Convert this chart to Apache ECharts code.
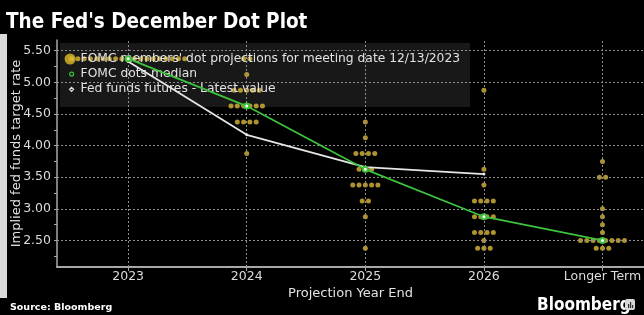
<!DOCTYPE html>
<html>
<head>
<meta charset="utf-8">
<title>The Fed's December Dot Plot</title>
<script src="https://cdn.jsdelivr.net/npm/echarts@6.0.0/dist/echarts.min.js"></script>
<style>
  html, body { margin: 0; padding: 0; background: #000; }
  #main { width: 644px; height: 315px; }
</style>
</head>
<body>
<div id="main"></div>
<script>
// x categories
var years = ['2023', '2024', '2025', '2026', 'Longer Term'];

// FOMC dots: rate level + how many members put a dot there
var rates2023 = [5.375];
var count2023 = [19];
var rates2024 = [5.375, 5.125, 4.875, 4.625, 4.375, 3.875];
var count2024 = [2, 1, 5, 6, 4, 1];
var rates2025 = [4.375, 4.125, 3.875, 3.625, 3.375, 3.125, 2.875, 2.375];
var count2025 = [1, 1, 4, 3, 5, 2, 1, 1];
var rates2026 = [4.875, 3.625, 3.375, 3.125, 2.875, 2.625, 2.5, 2.375];
var count2026 = [1, 1, 1, 4, 4, 4, 1, 3];
var ratesLong = [3.75, 3.5, 3.0, 2.875, 2.75, 2.625, 2.5, 2.375];
var countLong = [1, 2, 1, 1, 1, 1, 8, 3];

// median dot and fed funds futures
var medianDots = [5.375, 4.625, 3.625, 2.875, 2.5];
var futures = [5.33, 4.17, 3.66, 3.55];

// y tick labels
var yTicks = [2.5, 3.0, 3.5, 4.0, 4.5, 5.0, 5.5];
var yMinor = [2.25, 2.5, 2.75, 3.0, 3.25, 3.5, 3.75, 4.0, 4.25, 4.5, 4.75, 5.0, 5.25, 5.5];

var allRates = [rates2023, rates2024, rates2025, rates2026, ratesLong];
var allCounts = [count2023, count2024, count2025, count2026, countLong];

var chart = echarts.init(document.getElementById('main'));

// spread dots of the same level side by side
var dotStep = 0.053;
var dotData = [];
allRates.forEach(function(rates, i) {
  rates.forEach(function(rate, k) {
    var n = allCounts[i][k];
    for (var j = 0; j < n; j++) {
      dotData.push([i + (j - (n - 1) / 2) * dotStep, rate]);
    }
  });
});

var catIdx = years.map(function(y, i) { return i; });
var gridLines = yTicks.map(function(v) { return { yAxis: v }; })
  .concat(catIdx.map(function(i) { return { xAxis: i }; }));

var dotName = "FOMC members' dot projections for meeting date 12/13/2023";
var medName = 'FOMC dots median';
var futName = 'Fed funds futures - Latest value';

var option = {
  backgroundColor: '#000',
  animation: false,
  textStyle: { fontFamily: 'DejaVu Sans' },
  title: {
    text: "The Fed's December Dot Plot",
    left: 6,
    top: 12,
    padding: 0,
    textStyle: { color: '#fff', fontSize: 20.5, fontWeight: 'bold', fontFamily: 'DejaVu Sans Condensed' }
  },
  grid: { left: 57, right: 0, top: 40, bottom: 48, outerBoundsMode: 'none' },
  legend: {
    orient: 'vertical',
    left: 59,
    top: 48,
    itemWidth: 11,
    itemHeight: 11,
    itemGap: 3,
    textStyle: { color: '#e2e2e2', fontSize: 12.3, fontFamily: 'DejaVu Sans' },
    data: [
      { name: dotName, icon: 'circle', itemStyle: { color: '#e0bd2c' } },
      { name: medName, icon: 'path://M0,0M11,11M7,3.5A2,2,0,1,1,7,7.5A2,2,0,1,1,7,3.5Z',
        itemStyle: { color: 'rgba(0,0,0,0)', borderColor: '#3cc23c', borderWidth: 1.2 } },
      { name: futName, icon: 'path://M0,0M11,11M7,3.5L9,5.5L7,7.5L5,5.5Z',
        itemStyle: { color: 'rgba(0,0,0,0)', borderColor: '#e6e6e6', borderWidth: 1.2 } }
    ]
  },
  xAxis: {
    type: 'value',
    min: -0.6,
    max: 4.35,
    name: 'Projection Year End',
    nameLocation: 'middle',
    nameGap: 20,
    nameMoveOverlap: false,
    nameTextStyle: { color: '#e2e2e2', fontSize: 13 },
    axisLine: { show: true, onZero: false, lineStyle: { color: '#a8a8a8', width: 2 } },
    axisTick: { show: true, customValues: catIdx, length: 4, lineStyle: { color: '#a8a8a8' } },
    axisLabel: {
      customValues: catIdx,
      color: '#dcdcdc',
      fontSize: 12.5,
      margin: 3,
      formatter: function(v) { return years[Math.round(v)]; }
    },
    splitLine: { show: false }
  },
  yAxis: {
    type: 'value',
    min: 2.08,
    max: 5.67,
    name: 'Implied fed funds target rate',
    nameLocation: 'middle',
    nameGap: 34,
    nameMoveOverlap: false,
    nameTextStyle: { color: '#e2e2e2', fontSize: 13 },
    axisLine: { show: true, onZero: false, lineStyle: { color: '#a8a8a8', width: 1.5 } },
    axisTick: { show: true, customValues: yMinor, length: 3, lineStyle: { color: '#a8a8a8' } },
    axisLabel: {
      customValues: yTicks,
      color: '#dcdcdc',
      fontSize: 12.5,
      margin: 6,
      formatter: function(v) { return v.toFixed(2); }
    },
    splitLine: { show: false }
  },
  graphic: [
    // left edge strip of the screenshot
    { type: 'rect', left: 0, top: 34, z: 0, shape: { width: 7, height: 264 }, style: { fill: '#d9d9d9' } },
    // legend box
    { type: 'rect', left: 60, top: 43, z: 0, shape: { width: 410, height: 64 }, style: { fill: '#181818' } },
    { type: 'text', left: 10, top: 303, style: { text: 'Source: Bloomberg', fill: '#fff', font: 'bold 9.5px "DejaVu Sans"' } },
    { type: 'text', left: 537, top: 297, style: { text: 'Bloomberg', fill: '#fff', font: 'bold 17px "DejaVu Sans Condensed"' } },
    { type: 'rect', left: 625, top: 299, shape: { width: 10, height: 11, r: 2 }, style: { fill: '#d8d8d8' } },
    { type: 'rect', left: 628, top: 304, shape: { width: 1.2, height: 4 }, style: { fill: '#333' } },
    { type: 'rect', left: 630, top: 302, shape: { width: 1.2, height: 6 }, style: { fill: '#333' } },
    { type: 'rect', left: 632, top: 305, shape: { width: 1.2, height: 3 }, style: { fill: '#333' } }
  ],
  series: [
    {
      // dotted grid lines
      type: 'line',
      data: [],
      silent: true,
      z: 1,
      markLine: {
        silent: true,
        symbol: 'none',
        label: { show: false },
        lineStyle: { color: '#8e8e8e', width: 1, type: [2, 2] },
        data: gridLines
      }
    },
    {
      name: dotName,
      type: 'scatter',
      data: dotData,
      symbolSize: 5,
      itemStyle: { color: '#d9b83a' },
      z: 3
    },
    {
      name: futName,
      type: 'line',
      data: futures.map(function(v, i) { return [i, v]; }),
      symbol: 'circle',
      symbolSize: 3,
      itemStyle: { color: '#e6e6e6' },
      lineStyle: { color: '#e6e6e6', width: 1.8 },
      z: 5
    },
    {
      name: medName,
      type: 'line',
      data: medianDots.map(function(v, i) { return [i, v]; }),
      symbol: 'emptyCircle',
      symbolSize: 5,
      itemStyle: { color: '#3cc23c' },
      lineStyle: { color: '#3cc23c', width: 1.8 },
      z: 6
    }
  ]
};

chart.setOption(option);
window.onresize = chart.resize;
</script>
</body>
</html>
